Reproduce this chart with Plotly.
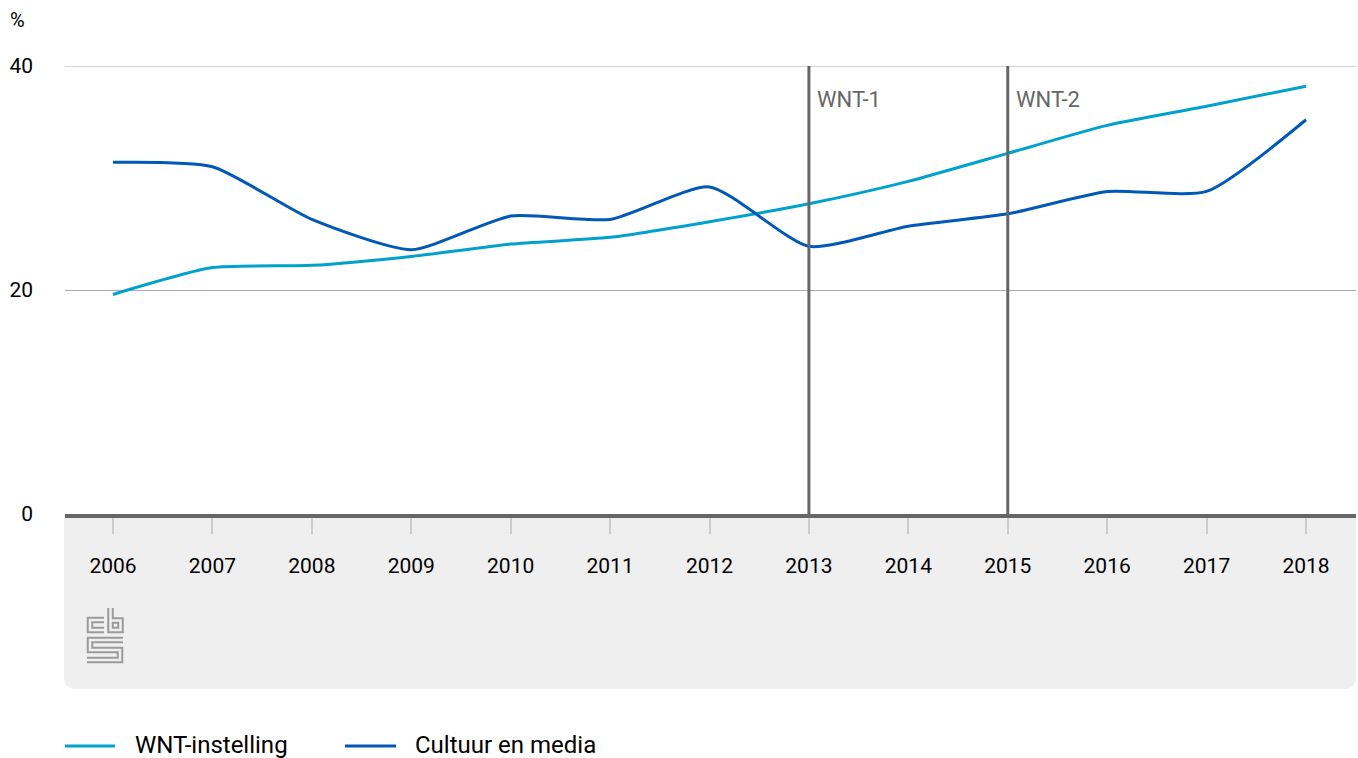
import plotly.graph_objects as go

years = [2006, 2007, 2008, 2009, 2010, 2011, 2012, 2013, 2014, 2015, 2016, 2017, 2018]
wnt_instelling = [19.6, 22.0, 22.2, 23.0, 24.1, 24.7, 26.1, 27.7, 29.7, 32.2, 34.7, 36.4, 38.2]
cultuur_media = [31.4, 31.0, 26.3, 23.6, 26.6, 26.3, 29.2, 23.9, 25.7, 26.8, 28.8, 28.8, 35.2]
series_names = ["WNT-instelling", "Cultuur en media"]
series_colors = ["#00a1cd", "#0058b8"]
wnt_years = [2013, 2015]
wnt_labels = ["WNT-1", "WNT-2"]
y_ticks = [0, 20, 40]

W, H = 1358, 758
L, R, T, B = 65, 1356, 66, 514
FONT = "Roboto"

def px(x):
    return (x - L) / (R - L)

def py(y):
    return (B - y) / (B - T)

fig = go.Figure()
for name, vals, col in zip(series_names, [wnt_instelling, cultuur_media], series_colors):
    fig.add_trace(go.Scatter(x=years, y=vals, name=name, mode="lines", showlegend=False,
                             hoverinfo="skip",
                             line=dict(color=col, width=3, shape="spline", smoothing=0.6)))

shapes = []
# gray footer panel with rounded bottom corners
r = 12
x0, x1, y0, y1 = L - 1, R, B, 689
path = (f"M {px(x0)},{py(y0)} L {px(x1)},{py(y0)} L {px(x1)},{py(y1 - r)} "
        f"Q {px(x1)},{py(y1)} {px(x1 - r)},{py(y1)} L {px(x0 + r)},{py(y1)} "
        f"Q {px(x0)},{py(y1)} {px(x0)},{py(y1 - r)} Z")
shapes.append(dict(type="path", xref="paper", yref="paper", path=path,
                   fillcolor="#efefef", line=dict(width=0), layer="below"))

# top gridline (at range edge)
shapes.append(dict(type="line", xref="paper", yref="y", x0=0, x1=1, y0=40, y1=40,
                   line=dict(color="#aaaaaa", width=1), layer="below"))

# CBS logo (outlined strokes)
logo_paths = [
    [(104, 620), (90, 620), (90, 630), (104, 630)],
    [(110.5, 608), (110.5, 630), (120.5, 630), (120.5, 620.5), (110.5, 620.5)],
    [(123, 640), (90, 640), (90, 650), (120, 650), (120, 660), (87, 660)],
]
for pts in logo_paths:
    d = "M " + " L ".join(f"{px(a)},{py(b)}" for a, b in pts)
    shapes.append(dict(type="path", xref="paper", yref="paper", path=d,
                       line=dict(color="#9a9a9a", width=6.5), layer="above"))
    shapes.append(dict(type="path", xref="paper", yref="paper", path=d,
                       line=dict(color="#efefef", width=2.5), layer="above"))

for yr in wnt_years:
    shapes.append(dict(type="line", xref="x", yref="y", x0=yr, x1=yr, y0=0, y1=40,
                       line=dict(color="#666666", width=3), layer="above"))

annotations = []
for yr, lab in zip(wnt_years, wnt_labels):
    annotations.append(dict(x=yr, y=37.0, xref="x", yref="y", text=lab, showarrow=False,
                            xanchor="left", yanchor="middle", xshift=6,
                            font=dict(family=FONT, size=22, color="#666666")))
annotations.append(dict(x=-(L - 8) / (R - L), y=py(20), xref="paper", yref="paper", text="%",
                        showarrow=False, xanchor="left", yanchor="middle",
                        font=dict(family=FONT, size=20, color="#000000")))

# custom legend
leg_items = [(65, 115, 133), (345, 396, 413)]
for (lx0, lx1, tx), name, col in zip(leg_items, series_names, series_colors):
    shapes.append(dict(type="line", xref="paper", yref="paper", x0=px(lx0), x1=px(lx1),
                       y0=py(746), y1=py(746), line=dict(color=col, width=3)))
    annotations.append(dict(x=px(tx), y=py(745), xref="paper", yref="paper", text=name,
                            showarrow=False, xanchor="left", yanchor="middle",
                            font=dict(family=FONT, size=24, color="#000000")))

fig.update_layout(
    width=W, height=H,
    margin=dict(l=L, r=W - R, t=T, b=H - B),
    paper_bgcolor="white", plot_bgcolor="white",
    font=dict(family=FONT, size=21, color="#000000"),
    showlegend=False, hovermode=False,
    shapes=shapes, annotations=annotations,
)
fig.update_xaxes(range=[2006 - 48 / 99.4, 2018 + 50 / 99.4], tickvals=years,
                 ticktext=[str(y) for y in years], showgrid=False, zeroline=False,
                 showline=True, linecolor="#666666", linewidth=4,
                 ticks="outside", ticklen=16, tickwidth=2, tickcolor="#cccccc",
                 ticklabelstandoff=14, tickfont=dict(family=FONT, size=21, color="#000000"))
fig.update_yaxes(range=[0, 40], tickvals=y_ticks, showgrid=True, gridcolor="#aaaaaa",
                 gridwidth=1, zeroline=False, showline=False, ticks="",
                 ticklabelstandoff=31, tickfont=dict(family=FONT, size=21, color="#000000"))

fig.write_html("out.html", config={"displayModeBar": False, "staticPlot": True},
               post_script="document.body.style.margin='0';document.body.style.overflow='hidden';")
